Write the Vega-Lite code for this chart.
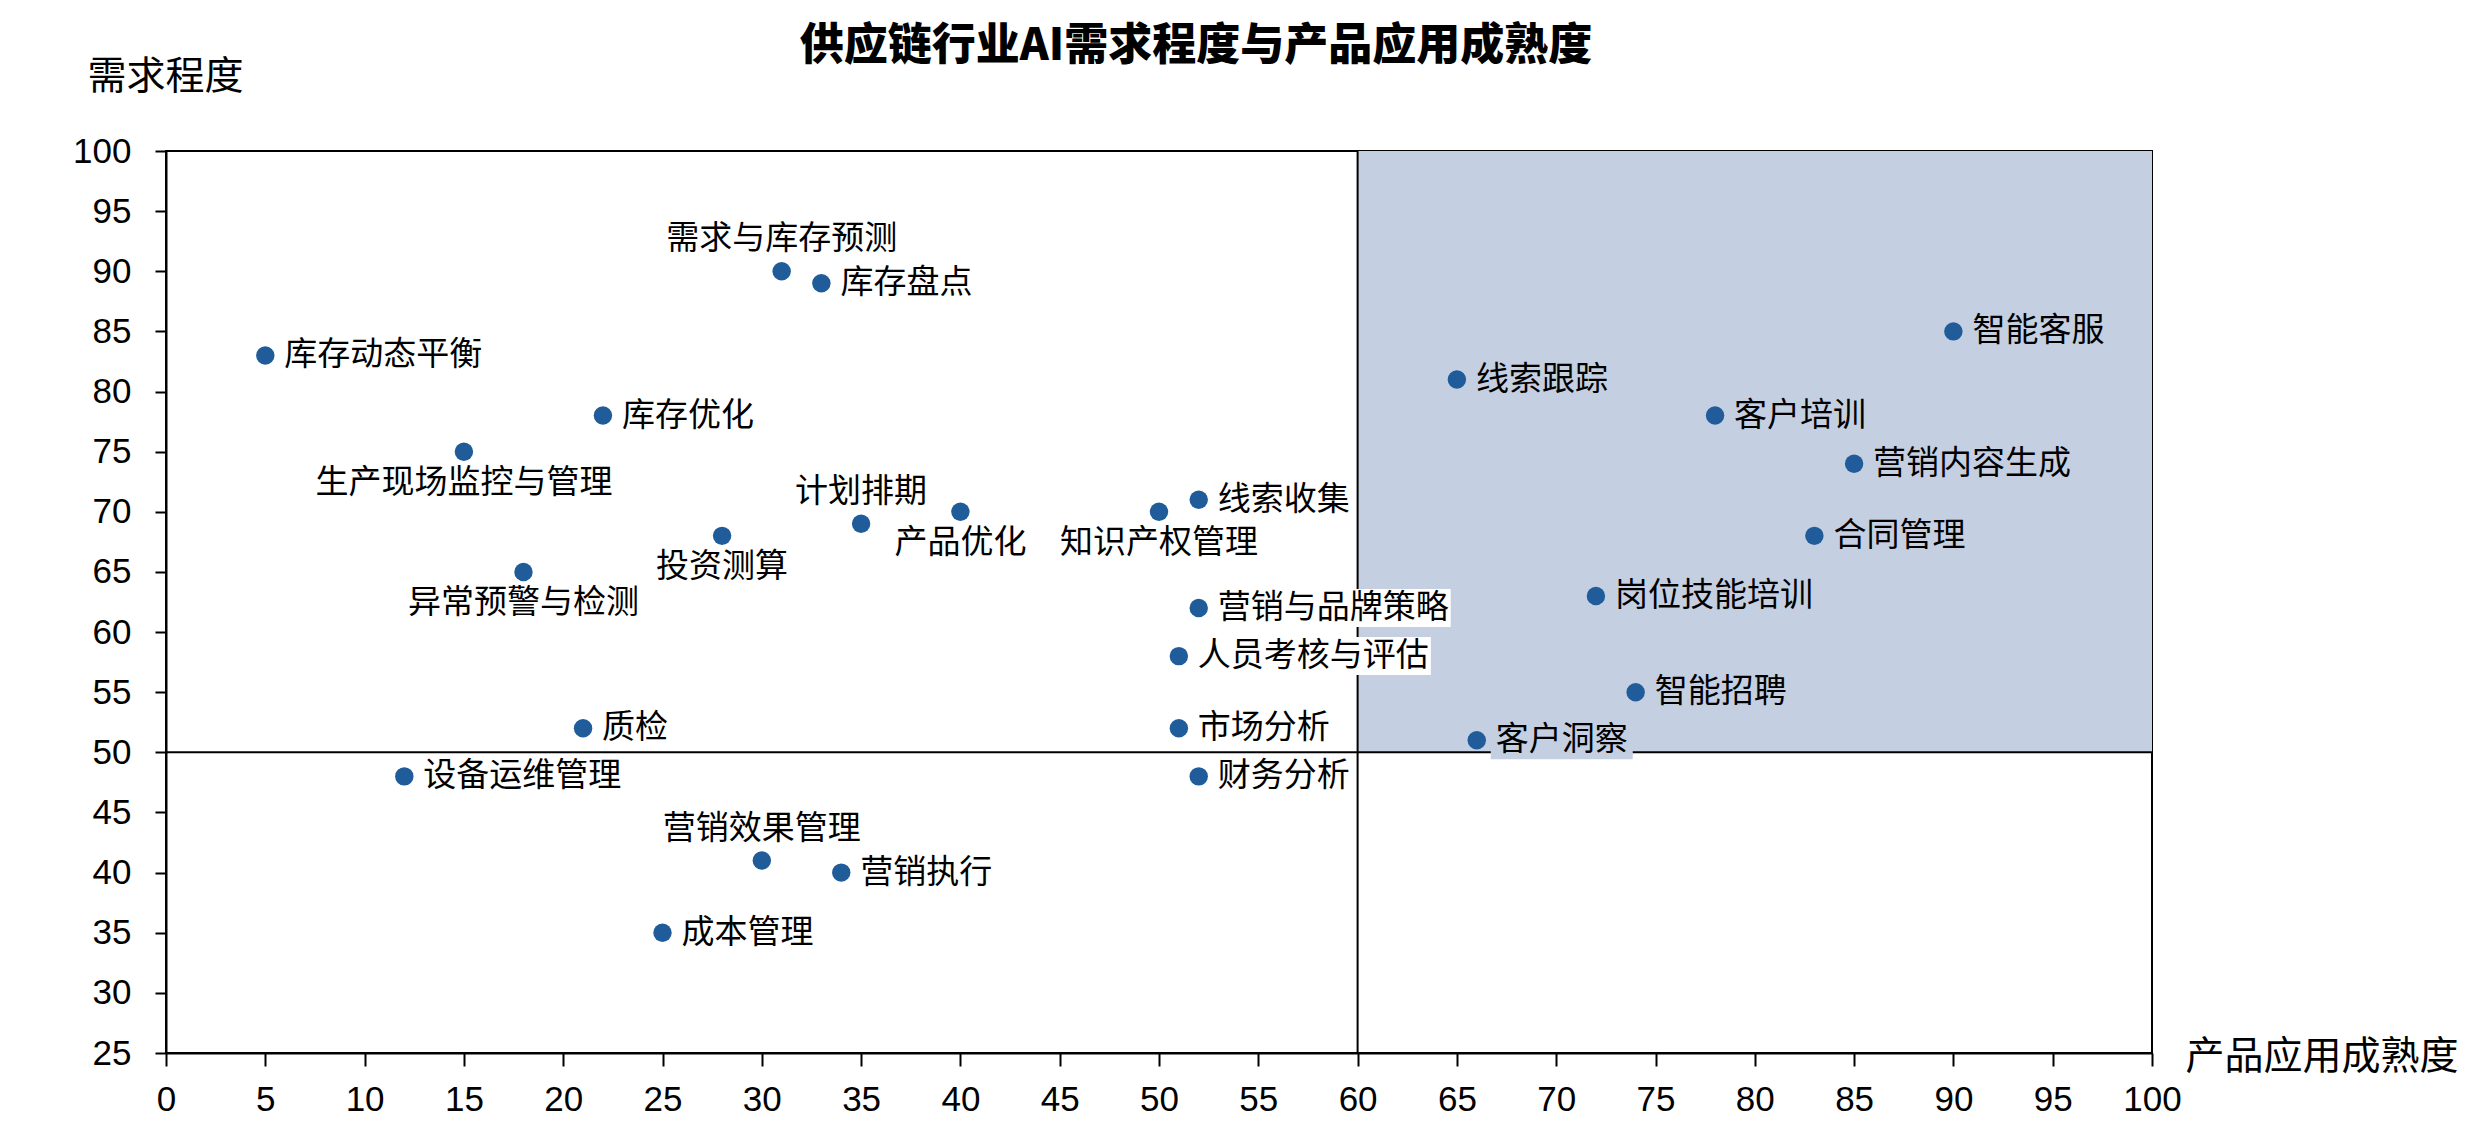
{
  "$schema": "https://vega.github.io/schema/vega-lite/v6.json",
  "width": 1986,
  "height": 902,
  "autosize": {"type": "none"},
  "padding": {"left": 166, "top": 151, "right": 340, "bottom": 86},
  "background": "white",
  "title": {
    "text": "供应链行业AI需求程度与产品应用成熟度",
    "font": "Noto Sans CJK SC",
    "fontSize": 44,
    "fontWeight": 900,
    "color": "black",
    "anchor": "middle",
    "frame": "group",
    "dx": 37,
    "offset": -12
  },
  "config": {
    "view": {"stroke": "black", "strokeWidth": 2},
    "axis": {
      "domainColor": "black",
      "domainWidth": 2,
      "tickColor": "black",
      "tickWidth": 2,
      "labelColor": "black",
      "labelFont": "Liberation Sans",
      "labelFontSize": 35,
      "labelOverlap": false,
      "labelFlush": false,
      "titleColor": "black",
      "titleFont": "Noto Sans CJK SC",
      "titleFontSize": 39,
      "titleFontWeight": "normal",
      "grid": false
    }
  },
  "datasets": {
    "items": [
      {"name": "库存动态平衡", "maturity": 5, "demand": 83},
      {"name": "生产现场监控与管理", "maturity": 15, "demand": 75},
      {"name": "异常预警与检测", "maturity": 18, "demand": 65},
      {"name": "库存优化", "maturity": 22, "demand": 78},
      {"name": "质检", "maturity": 21, "demand": 52},
      {"name": "设备运维管理", "maturity": 12, "demand": 48},
      {"name": "需求与库存预测", "maturity": 31, "demand": 90},
      {"name": "库存盘点", "maturity": 33, "demand": 89},
      {"name": "投资测算", "maturity": 28, "demand": 68},
      {"name": "计划排期", "maturity": 35, "demand": 69},
      {"name": "产品优化", "maturity": 40, "demand": 70},
      {"name": "知识产权管理", "maturity": 50, "demand": 70},
      {"name": "线索收集", "maturity": 52, "demand": 71},
      {"name": "营销与品牌策略", "maturity": 52, "demand": 62},
      {"name": "人员考核与评估", "maturity": 51, "demand": 58},
      {"name": "市场分析", "maturity": 51, "demand": 52},
      {"name": "财务分析", "maturity": 52, "demand": 48},
      {"name": "营销效果管理", "maturity": 30, "demand": 41},
      {"name": "营销执行", "maturity": 34, "demand": 40},
      {"name": "成本管理", "maturity": 25, "demand": 35},
      {"name": "线索跟踪", "maturity": 65, "demand": 81},
      {"name": "客户培训", "maturity": 78, "demand": 78},
      {"name": "智能客服", "maturity": 90, "demand": 85},
      {"name": "营销内容生成", "maturity": 85, "demand": 74},
      {"name": "合同管理", "maturity": 83, "demand": 68},
      {"name": "岗位技能培训", "maturity": 72, "demand": 63},
      {"name": "智能招聘", "maturity": 74, "demand": 55},
      {"name": "客户洞察", "maturity": 66, "demand": 51}
    ],
    "quadrant": [{"maturity": 60, "maturity2": 100, "demand": 50, "demand2": 100}],
    "dividerX": [{"maturity": 60}],
    "dividerY": [{"demand": 50}]
  },
  "data": {"name": "items"},
  "layer": [
    {
      "data": {"name": "quadrant"},
      "mark": {"type": "rect", "fill": "#C4CFE1"},
      "encoding": {
        "x": {
          "field": "maturity",
          "type": "quantitative",
          "scale": {"domain": [0, 100], "nice": false, "zero": false},
          "axis": {
            "title": "产品应用成熟度",
            "values": [0, 5, 10, 15, 20, 25, 30, 35, 40, 45, 50, 55, 60, 65, 70, 75, 80, 85, 90, 95, 100],
            "tickSize": 13,
            "labelPadding": 16,
            "titleAngle": 0,
            "titleAlign": "left",
            "titleBaseline": "middle",
            "titleX": 2019,
            "titleY": 3
          }
        },
        "x2": {"field": "maturity2"},
        "y": {
          "field": "demand",
          "type": "quantitative",
          "scale": {"domain": [25, 100], "nice": false, "zero": false},
          "axis": {
            "title": "需求程度",
            "values": [25, 30, 35, 40, 45, 50, 55, 60, 65, 70, 75, 80, 85, 90, 95, 100],
            "tickSize": 11,
            "labelPadding": 24,
            "titleAngle": 0,
            "titleAlign": "left",
            "titleBaseline": "middle",
            "titleX": -79,
            "titleY": -75
          }
        },
        "y2": {"field": "demand2"}
      }
    },
    {
      "data": {"name": "dividerX"},
      "mark": {"type": "rule", "color": "black", "strokeWidth": 2},
      "encoding": {"x": {"field": "maturity", "type": "quantitative"}}
    },
    {
      "data": {"name": "dividerY"},
      "mark": {"type": "rule", "color": "black", "strokeWidth": 2},
      "encoding": {"y": {"field": "demand", "type": "quantitative"}}
    },
    {
      "transform": [{"filter": {"field": "name", "oneOf": ["营销与品牌策略", "人员考核与评估"]}}],
      "mark": {"type": "rect", "fill": "white", "width": 238, "height": 38, "xOffset": 133},
      "encoding": {
        "x": {"field": "maturity", "type": "quantitative"},
        "y": {"field": "demand", "type": "quantitative"}
      }
    },
    {
      "transform": [{"filter": {"field": "name", "equal": "客户洞察"}}],
      "mark": {"type": "rect", "fill": "#C4CFE1", "width": 142, "height": 38, "xOffset": 85},
      "encoding": {
        "x": {"field": "maturity", "type": "quantitative"},
        "y": {"field": "demand", "type": "quantitative"}
      }
    },
    {
      "mark": {"type": "circle", "size": 340, "color": "#1F5C99", "opacity": 1},
      "encoding": {
        "x": {"field": "maturity", "type": "quantitative"},
        "y": {"field": "demand", "type": "quantitative"}
      }
    },
    {
      "transform": [{"filter": {"not": {"field": "name", "oneOf": ["生产现场监控与管理", "异常预警与检测", "投资测算", "产品优化", "知识产权管理", "需求与库存预测", "计划排期", "营销效果管理"]}}}],
      "mark": {"type": "text", "align": "left", "baseline": "middle", "dx": 19, "font": "Noto Sans CJK SC", "fontSize": 33, "color": "black"},
      "encoding": {
        "x": {"field": "maturity", "type": "quantitative"},
        "y": {"field": "demand", "type": "quantitative"},
        "text": {"field": "name"}
      }
    },
    {
      "transform": [{"filter": {"field": "name", "oneOf": ["生产现场监控与管理", "异常预警与检测", "投资测算", "产品优化", "知识产权管理"]}}],
      "mark": {"type": "text", "align": "center", "baseline": "middle", "dy": 31, "font": "Noto Sans CJK SC", "fontSize": 33, "color": "black"},
      "encoding": {
        "x": {"field": "maturity", "type": "quantitative"},
        "y": {"field": "demand", "type": "quantitative"},
        "text": {"field": "name"}
      }
    },
    {
      "transform": [{"filter": {"field": "name", "oneOf": ["需求与库存预测", "计划排期", "营销效果管理"]}}],
      "mark": {"type": "text", "align": "center", "baseline": "middle", "dy": -32, "font": "Noto Sans CJK SC", "fontSize": 33, "color": "black"},
      "encoding": {
        "x": {"field": "maturity", "type": "quantitative"},
        "y": {"field": "demand", "type": "quantitative"},
        "text": {"field": "name"}
      }
    }
  ]
}
